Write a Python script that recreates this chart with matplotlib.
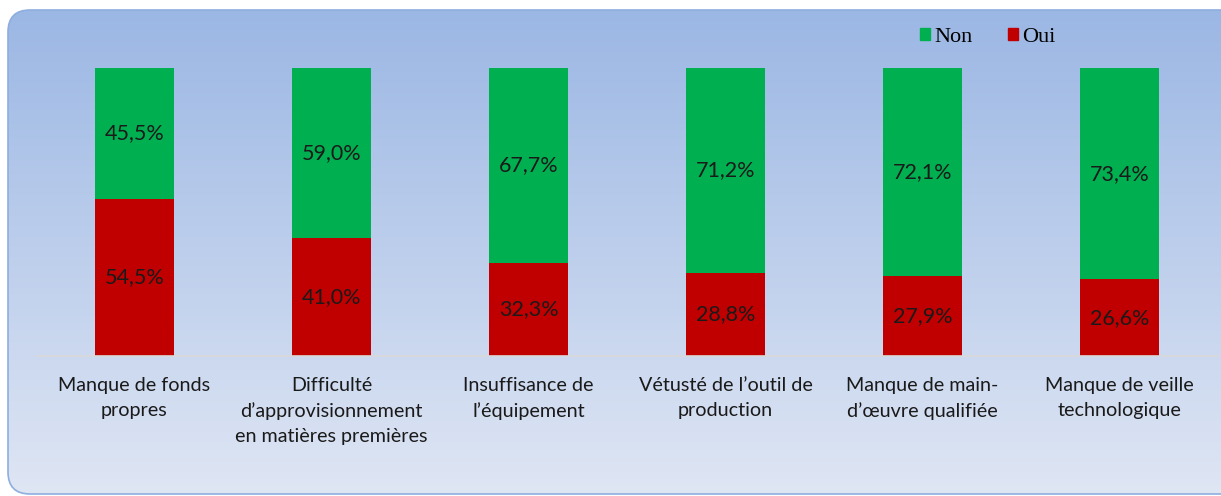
import numpy as np
import matplotlib
matplotlib.use("Agg")
import matplotlib.pyplot as plt
from matplotlib.patches import FancyBboxPatch, Patch

categories = [
    "Manque de fonds\npropres",
    "Difficulté\nd’approvisionnement\nen matières premières",
    "Insuffisance de\nl’équipement",
    "Vétusté de l’outil de\nproduction",
    "Manque de main-\nd’œuvre qualifiée",
    "Manque de veille\ntechnologique",
]
oui = [54.5, 41.0, 32.3, 28.8, 27.9, 26.6]
non = [45.5, 59.0, 67.7, 71.2, 72.1, 73.4]

GREEN = "#00B050"
RED = "#C00000"
FONT = ["Lato", "DejaVu Sans"]

W, H = 1221, 496
fig = plt.figure(figsize=(W / 100, H / 100), dpi=100, facecolor="white")

# background rounded panel with vertical gradient
bg = fig.add_axes([0, 0, 1, 1])
bg.set_xlim(0, W)
bg.set_ylim(H, 0)
bg.axis("off")
top = np.array([155, 183, 228]) / 255
bot = np.array([223, 230, 244]) / 255
t = np.linspace(0, 1, 256)[:, None]
grad = (top[None, :] * (1 - t) + bot[None, :] * t)[:, None, :]
im = bg.imshow(grad, extent=[8, 1245, 494, 10], aspect="auto", zorder=0)
panel = FancyBboxPatch((8, 10), 1237, 484, boxstyle="round,pad=0,rounding_size=22",
                       facecolor="none", edgecolor="#8DAEDF", linewidth=1.2, zorder=1)
bg.add_patch(panel)
im.set_clip_path(panel)
bg.set_xlim(0, W)
bg.set_ylim(H, 0)

ax = fig.add_axes([36 / W, (H - 356) / H, 1182 / W, 288 / H])
ax.set_facecolor("none")
x = np.arange(len(categories))
bw = 0.396
ax.bar(x, oui, bw, color=RED, label="Oui", zorder=2)
ax.bar(x, non, bw, bottom=oui, color=GREEN, label="Non", zorder=2)

for i in range(len(categories)):
    ax.text(x[i], oui[i] / 2, f"{oui[i]:.1f}%".replace(".", ","), ha="center", va="center",
            fontsize=15.5, family=FONT, color="#1a1a1a", zorder=3)
    ax.text(x[i], oui[i] + non[i] / 2, f"{non[i]:.1f}%".replace(".", ","), ha="center", va="center",
            fontsize=15.5, family=FONT, color="#1a1a1a", zorder=3)

ax.set_xlim(-0.5, len(categories) - 0.5)
ax.set_ylim(0, 100)
ax.set_yticks([])
ax.set_xticks(x)
ax.set_xticklabels(categories, fontsize=14.2, family=FONT, color="#1a1a1a", linespacing=1.55)
ax.tick_params(axis="x", length=0, pad=15)
for s in ["top", "right", "left"]:
    ax.spines[s].set_visible(False)
ax.spines["bottom"].set_color("#D9D9D9")
ax.spines["bottom"].set_linewidth(1.2)

ax.legend(handles=[Patch(color=GREEN, label="Non"), Patch(color=RED, label="Oui")],
          ncol=2, frameon=False, loc="center left",
          bbox_to_anchor=(904 / W, (H - 37) / H), bbox_transform=fig.transFigure,
          prop={"family": "Liberation Serif", "size": 16},
          handlelength=0.45, handleheight=0.45, handletextpad=0.2, columnspacing=1.6,
          borderpad=0.2)

fig.savefig("out.png", dpi=100, facecolor="white")
